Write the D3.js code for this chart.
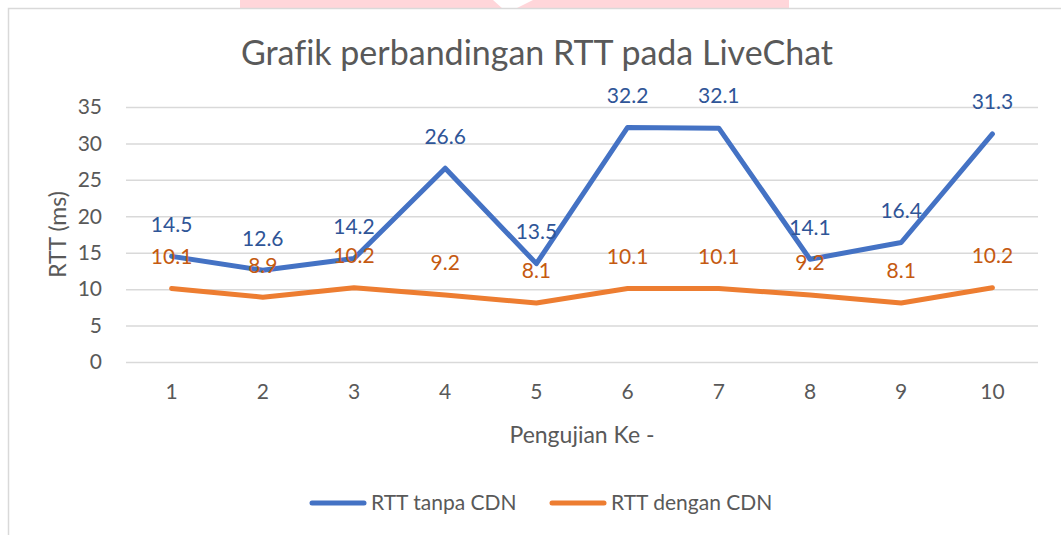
<!DOCTYPE html>
<html>
<head>
<meta charset="utf-8">
<script src="https://cdn.jsdelivr.net/npm/d3@7"></script>
<style>
  html, body { margin: 0; padding: 0; background: #fff; }
  svg { display: block; font-family: Lato, "Open Sans", sans-serif; font-variant-ligatures: none; }
</style>
</head>
<body>
<svg id="chart" width="1061" height="535"></svg>
<script>
// data
var CATEGORIES = ["1", "2", "3", "4", "5", "6", "7", "8", "9", "10"];
var TANPA_CDN = [14.5, 12.6, 14.2, 26.6, 13.5, 32.2, 32.1, 14.1, 16.4, 31.3];
var DENGAN_CDN = [10.1, 8.9, 10.2, 9.2, 8.1, 10.1, 10.1, 9.2, 8.1, 10.2];
var Y_TICKS = [0, 5, 10, 15, 20, 25, 30, 35];
var SERIES_NAMES = ["RTT tanpa CDN", "RTT dengan CDN"];

var WIDTH = 1061;
var HEIGHT = 535;
var PLOT = { left: 126, right: 1038, top: 107, bottom: 362 };
var TEXT_GREY = "#595959";
var LINE_COLORS = ["#4472C4", "#ED7D31"];
var LABEL_COLORS = ["#2F5597", "#C55A11"];

var svg = d3.select("#chart");

// faint watermark band behind the chart frame
svg.append("rect")
    .attr("x", 240).attr("y", 0)
    .attr("width", 549).attr("height", 9)
    .attr("fill", "#FFD6DA");
svg.append("path")
    .attr("d", "M493,0 L533,0 L515,9 L503,9 Z")
    .attr("fill", "#fff");

// chart frame
svg.append("rect")
    .attr("x", 8.5).attr("y", 8.5)
    .attr("width", WIDTH + 20).attr("height", HEIGHT + 20)
    .attr("fill", "#fff")
    .attr("stroke", "#D9D9D9")
    .attr("stroke-width", 1.5);

var xScale = d3.scaleBand()
    .domain(CATEGORIES)
    .range([PLOT.left, PLOT.right]);
var yScale = d3.scaleLinear()
    .domain([0, 35])
    .range([PLOT.bottom, PLOT.top]);
var xPos = c => xScale(c) + xScale.bandwidth() / 2;

// gridlines + y tick labels
var yAxis = d3.axisLeft(yScale)
    .tickValues(Y_TICKS)
    .tickSize(-(PLOT.right - PLOT.left))
    .tickPadding(24);
var yg = svg.append("g")
    .attr("transform", `translate(${PLOT.left}, 0)`)
    .call(yAxis);
yg.select(".domain").remove();
yg.selectAll(".tick line")
    .attr("stroke", "#D9D9D9")
    .attr("stroke-width", 1.5);
yg.selectAll(".tick text")
    .attr("fill", TEXT_GREY)
    .style("font-size", "21px")
    .style("font-family", "Lato");

// x tick labels
var xAxis = d3.axisBottom(xScale)
    .tickSize(0)
    .tickPadding(22);
var xg = svg.append("g")
    .attr("transform", `translate(0, ${PLOT.bottom})`)
    .call(xAxis);
xg.select(".domain").remove();
xg.selectAll(".tick text")
    .attr("fill", TEXT_GREY)
    .style("font-size", "21px")
    .style("font-family", "Lato");

// title and axis titles
svg.append("text")
    .text("Grafik perbandingan RTT pada LiveChat")
    .attr("x", 537).attr("y", 65)
    .attr("text-anchor", "middle")
    .attr("fill", TEXT_GREY)
    .style("font-size", "34px");

svg.append("text")
    .text("Pengujian Ke -")
    .attr("x", (PLOT.left + PLOT.right) / 2).attr("y", 443)
    .attr("text-anchor", "middle")
    .attr("fill", TEXT_GREY)
    .style("font-size", "23px");

svg.append("text")
    .text("RTT (ms)")
    .attr("transform", `translate(66, ${(PLOT.top + PLOT.bottom) / 2}) rotate(-90)`)
    .attr("text-anchor", "middle")
    .attr("fill", TEXT_GREY)
    .style("font-size", "23px");

// lines
var lineGen = d3.line()
    .x((d, i) => xPos(CATEGORIES[i]))
    .y(d => yScale(d));

var allSeries = [TANPA_CDN, DENGAN_CDN];

// orange first so blue sits on top as in the picture
[1, 0].forEach(function(s) {
    svg.append("path")
        .datum(allSeries[s])
        .attr("fill", "none")
        .attr("stroke", LINE_COLORS[s])
        .attr("stroke-width", 5)
        .attr("stroke-linejoin", "round")
        .attr("stroke-linecap", "round")
        .attr("d", lineGen);
});

// data labels, placed above each point
[1, 0].forEach(function(s) {
    svg.append("g")
        .selectAll("text")
        .data(allSeries[s])
        .join("text")
        .attr("x", (d, i) => xPos(CATEGORIES[i]))
        .attr("y", d => yScale(d) - 32)
        .attr("dy", "0.35em")
        .attr("text-anchor", "middle")
        .attr("fill", LABEL_COLORS[s])
        .style("font-size", "21px")
        .text(d => d.toFixed(1));
});

// legend
var legendItems = [
    { name: SERIES_NAMES[0], color: LINE_COLORS[0], x: 312 },
    { name: SERIES_NAMES[1], color: LINE_COLORS[1], x: 552 }
];
var lg = svg.append("g").attr("transform", "translate(0, 503)");
legendItems.forEach(function(it) {
    lg.append("line")
        .attr("x1", it.x).attr("x2", it.x + 52)
        .attr("y1", 0).attr("y2", 0)
        .attr("stroke", it.color)
        .attr("stroke-width", 5)
        .attr("stroke-linecap", "round");
    lg.append("text")
        .text(it.name)
        .attr("x", it.x + 59)
        .attr("y", 0)
        .attr("dy", "0.35em")
        .attr("fill", TEXT_GREY)
        .style("font-size", "21px");
});
</script>
</body>
</html>
